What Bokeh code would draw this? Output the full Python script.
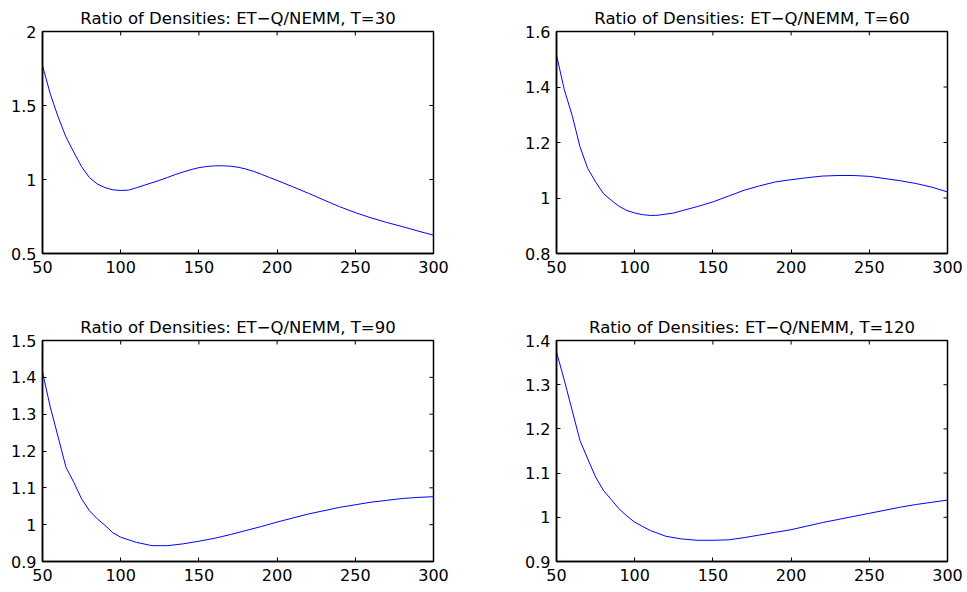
import math
from bokeh.plotting import figure
from bokeh.layouts import column, row
from bokeh.models import Range1d, FixedTicker, CustomJSTickFormatter
from bokeh.embed import file_html
from bokeh.resources import INLINE

# ---- data ----
x_tick_values = [50, 100, 150, 200, 250, 300]

t30_x = [50, 55, 60, 65, 70, 75, 80, 85, 90, 95, 100, 105, 110, 115, 120, 125, 130, 135, 140,
         145, 150, 155, 160, 165, 170, 175, 180, 185, 190, 195, 200, 210, 220, 230, 240, 250,
         260, 270, 280, 290, 300]
t30_y = [1.77, 1.577, 1.423, 1.287, 1.185, 1.086, 1.013, 0.97, 0.945, 0.93, 0.926, 0.928,
         0.944, 0.961, 0.978, 0.995, 1.014, 1.034, 1.051, 1.067, 1.08, 1.088, 1.092, 1.093,
         1.09, 1.083, 1.071, 1.055, 1.035, 1.014, 0.994, 0.951, 0.907, 0.861, 0.816, 0.776,
         0.741, 0.71, 0.682, 0.652, 0.624]
t30_yticks = [0.5, 1, 1.5, 2]

t60_x = [50, 55, 60, 65, 70, 75, 80, 85, 90, 95, 100, 105, 110, 115, 120, 125, 130, 140, 150,
         160, 170, 180, 190, 200, 210, 220, 230, 240, 250, 260, 270, 280, 290, 300]
t60_y = [1.515, 1.39, 1.298, 1.185, 1.106, 1.058, 1.016, 0.992, 0.97, 0.955, 0.946, 0.94,
         0.937, 0.938, 0.942, 0.946, 0.954, 0.969, 0.986, 1.007, 1.028, 1.044, 1.058, 1.066,
         1.073, 1.079, 1.081, 1.081, 1.078, 1.07, 1.062, 1.052, 1.039, 1.022]
t60_yticks = [0.8, 1, 1.2, 1.4, 1.6]

t90_x = [50, 55, 60, 65, 70, 75, 80, 85, 90, 95, 100, 110, 120, 130, 140, 150, 160, 170, 180,
         190, 200, 210, 220, 230, 240, 250, 260, 270, 280, 290, 300]
t90_y = [1.414, 1.319, 1.238, 1.156, 1.115, 1.07, 1.038, 1.016, 0.998, 0.978, 0.966, 0.952,
         0.943, 0.943, 0.948, 0.955, 0.963, 0.973, 0.984, 0.995, 1.007, 1.018, 1.029, 1.038,
         1.047, 1.054, 1.061, 1.066, 1.071, 1.074, 1.076]
t90_yticks = [0.9, 1, 1.1, 1.2, 1.3, 1.4, 1.5]

t120_x = [50, 55, 60, 65, 70, 75, 80, 85, 90, 95, 100, 110, 120, 130, 140, 150, 160, 170, 180,
          190, 200, 210, 220, 230, 240, 250, 260, 270, 280, 290, 300]
t120_y = [1.374, 1.31, 1.242, 1.174, 1.132, 1.091, 1.061, 1.04, 1.019, 1.003, 0.989, 0.97,
          0.957, 0.951, 0.948, 0.948, 0.949, 0.954, 0.96, 0.966, 0.972, 0.98, 0.988, 0.995,
          1.002, 1.009, 1.016, 1.023, 1.029, 1.034, 1.039]
t120_yticks = [0.9, 1, 1.1, 1.2, 1.3, 1.4]

titles = ["Ratio of Densities: ET\u2212Q/NEMM, T=30",
          "Ratio of Densities: ET\u2212Q/NEMM, T=60",
          "Ratio of Densities: ET\u2212Q/NEMM, T=90",
          "Ratio of Densities: ET\u2212Q/NEMM, T=120"]

FONT = "DejaVu Sans"
fmt_code = "return String(Math.round(tick*1000)/1000);"


def style_axis(ax, ticks):
    ax.ticker = FixedTicker(ticks=ticks)
    ax.formatter = CustomJSTickFormatter(code=fmt_code)
    ax.major_tick_in = 4
    ax.major_tick_out = 0
    ax.minor_tick_line_color = None
    ax.axis_line_color = "black"
    ax.axis_line_width = 1.5
    ax.major_tick_line_color = "black"
    ax.major_tick_line_width = 1
    ax.major_label_text_font = FONT
    ax.major_label_text_font_size = "16px"
    ax.major_label_text_color = "black"


def make_panel(title, xs, ys, yticks, width, height, ml, mr, mt, mb):
    x0, x1 = x_tick_values[0], x_tick_values[-1]
    y0, y1 = yticks[0], yticks[-1]
    p = figure(width=width, height=height, output_backend="svg", toolbar_location=None,
               x_range=Range1d(x0, x1), y_range=Range1d(y0, y1),
               min_border_left=ml, min_border_right=mr, min_border_top=mt, min_border_bottom=mb)
    p.line(xs, ys, line_color="#0000ff", line_width=1)
    # inward tick marks on the top and right edges of the box
    p.ray(x=x_tick_values, y=[y1] * len(x_tick_values), length=4, length_units="screen",
          angle=-math.pi / 2, line_color="black", line_width=1)
    p.ray(x=[x1] * len(yticks), y=yticks, length=4, length_units="screen",
          angle=math.pi, line_color="black", line_width=1)
    p.xgrid.visible = False
    p.ygrid.visible = False
    p.outline_line_color = "black"
    p.outline_line_width = 1.5
    p.background_fill_color = "white"
    p.border_fill_color = "white"
    p.title.text = title
    p.title.align = "center"
    p.title.text_font = FONT
    p.title.text_font_style = "normal"
    p.title.text_font_size = "16.5px"
    p.title.text_color = "black"
    p.title.standoff = 8
    style_axis(p.xaxis[0], x_tick_values)
    p.xaxis[0].major_label_standoff = 7
    style_axis(p.yaxis[0], yticks)
    p.yaxis[0].major_label_standoff = 6
    return p


p1 = make_panel(titles[0], t30_x, t30_y, t30_yticks, 480, 296, 42, 47, 31, 43)
p2 = make_panel(titles[1], t60_x, t60_y, t60_yticks, 487, 296, 76, 20, 31, 43)
p3 = make_panel(titles[2], t90_x, t90_y, t90_yticks, 480, 296, 42, 47, 44, 31)
p4 = make_panel(titles[3], t120_x, t120_y, t120_yticks, 487, 296, 76, 20, 44, 31)

p = column(row(p1, p2), row(p3, p4))
open("out.html", "w").write(file_html(p, INLINE))
